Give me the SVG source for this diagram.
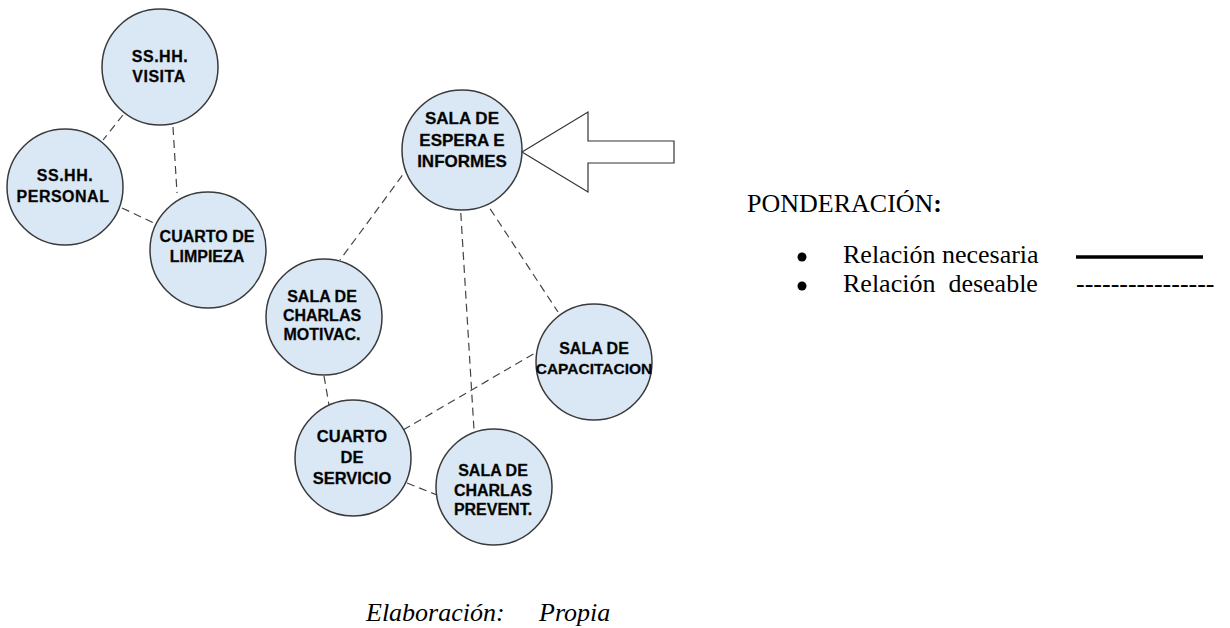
<svg xmlns="http://www.w3.org/2000/svg" width="1230" height="628" viewBox="0 0 1230 628">
<style>
.node circle{fill:#dae8f5;stroke:#3a3a3a;stroke-width:1.5}
.node text{font-family:"Liberation Sans",Arial,sans-serif;font-weight:bold;font-size:16px;fill:#000;stroke:#222;stroke-width:0.3;text-anchor:middle}
.sp{letter-spacing:0.5px}
#connectors line{stroke:#444;stroke-width:1.2;stroke-dasharray:8 5;fill:none}
.leg{font-family:"Liberation Serif","Times New Roman",serif;font-size:26px;fill:#000}
</style>
<rect width="1230" height="628" fill="#fff"/>
<g id="connectors">
<line x1="123" y1="115" x2="103" y2="140"/>
<line x1="173" y1="127" x2="177" y2="193"/>
<line x1="122" y1="208" x2="156" y2="224"/>
<line x1="410" y1="165" x2="340" y2="260"/>
<line x1="460" y1="200" x2="474" y2="430"/>
<line x1="483" y1="198" x2="558" y2="312"/>
<line x1="324" y1="376" x2="329" y2="405"/>
<line x1="403" y1="430" x2="535" y2="353"/>
<line x1="407" y1="483" x2="437" y2="495"/>
</g>
<g id="arrow"><polygon points="522,152 588,112 588,141 674,141 674,163 588,163 588,192" fill="#fff" stroke="#333" stroke-width="1.2"/></g>
<g id="n-visita" class="node"><circle cx="160" cy="67" r="58"/><text x="160" y="62" class="sp">SS.HH.</text><text x="159" y="82" class="sp">VISITA</text></g>
<g id="n-personal" class="node"><circle cx="65" cy="187" r="58"/><text x="65" y="181" class="sp">SS.HH.</text><text x="63" y="202" class="sp">PERSONAL</text></g>
<g id="n-limpieza" class="node"><circle cx="208" cy="250" r="58"/><text x="207" y="242">CUARTO DE</text><text x="207" y="262">LIMPIEZA</text></g>
<g id="n-espera" class="node"><circle cx="462" cy="150" r="60"/><text x="462" y="124" style="font-size:17px">SALA DE</text><text x="462" y="146" style="font-size:17px">ESPERA E</text><text x="462" y="167" style="font-size:17px">INFORMES</text></g>
<g id="n-motivac" class="node"><circle cx="324" cy="317" r="58"/><text x="322" y="302">SALA DE</text><text x="322" y="321">CHARLAS</text><text x="322" y="340">MOTIVAC.</text></g>
<g id="n-capacitacion" class="node"><circle cx="594" cy="362" r="58"/><text x="594" y="354">SALA DE</text><text x="594" y="374" style="font-size:15.5px">CAPACITACION</text></g>
<g id="n-servicio" class="node"><circle cx="353" cy="458" r="58"/><text x="352" y="442" style="font-size:16.5px">CUARTO</text><text x="352" y="463" style="font-size:16.5px">DE</text><text x="352" y="484" style="font-size:16.5px">SERVICIO</text></g>
<g id="n-prevent" class="node"><circle cx="494" cy="487" r="58"/><text x="493" y="476">SALA DE</text><text x="493" y="496">CHARLAS</text><text x="493" y="515">PREVENT.</text></g>
<g id="legend">
<text class="leg" x="747" y="212">PONDERACIÓN<tspan font-weight="bold">:</tspan></text>
<circle cx="802" cy="257" r="4.5" fill="#000"/>
<circle cx="802" cy="286" r="4.5" fill="#000"/>
<text class="leg" x="843" y="263">Relación necesaria</text>
<text class="leg" x="843" y="292" xml:space="preserve">Relación  deseable</text>
<line x1="1076" y1="257" x2="1203" y2="257" stroke="#000" stroke-width="3.5"/>
<text class="leg" x="1076" y="292">----------------</text>
</g>
<text y="621" style="font-family:'Liberation Serif','Times New Roman',serif;font-style:italic;font-size:26px;fill:#000"><tspan x="366">Elaboración:</tspan><tspan x="539">Propia</tspan></text>
</svg>
